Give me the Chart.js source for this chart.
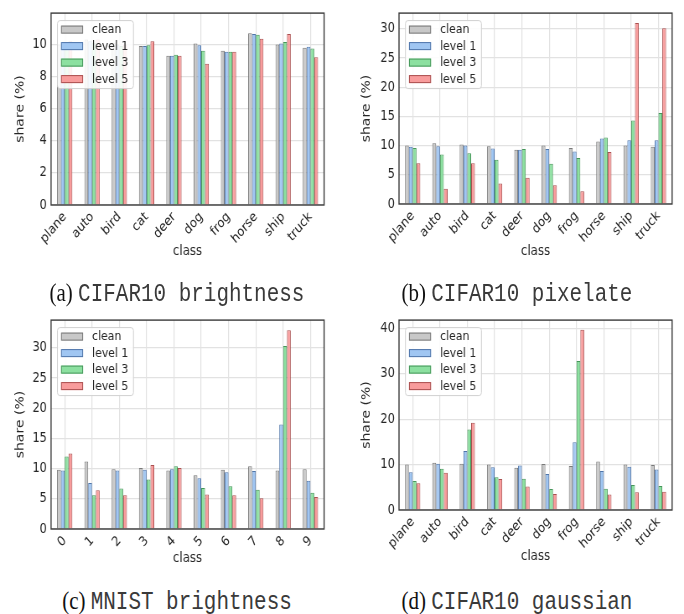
<!DOCTYPE html>
<html>
<head>
<meta charset="utf-8">
<script src="https://cdn.jsdelivr.net/npm/chart.js@4.4.0/dist/chart.umd.min.js"></script>
<style>
  html, body { margin: 0; padding: 0; background: #fff; }
  #page { position: relative; width: 684px; height: 614px; overflow: hidden; }
  canvas { position: absolute; }
  .cap { position: absolute; width: 342px; text-align: center; font-size: 25px; line-height: 29px; color: #111;
         white-space: nowrap; transform: scaleX(0.838); transform-origin: 50% 50%; }
  .cap .lbl { font-family: "Liberation Serif", serif; }
  .cap .nm { font-family: "Liberation Mono", monospace; color: #3a3a3a; }
</style>
</head>
<body>
<div id="page">
  <!-- the reference figure is squeezed horizontally, so each canvas is drawn wider and shown at 342px -->
  <canvas id="chartA" width="408" height="270" style="left:0;top:0;width:342px;height:270px"></canvas>
  <canvas id="chartB" width="408" height="270" style="left:342px;top:0;width:342px;height:270px"></canvas>
  <canvas id="chartC" width="408" height="270" style="left:0;top:307px;width:342px;height:270px"></canvas>
  <canvas id="chartD" width="408" height="270" style="left:342px;top:307px;width:342px;height:270px"></canvas>
  <div class="cap" style="left:6px;top:278px"><span class="lbl">(a)</span> <span class="nm">CIFAR10 brightness</span></div>
  <div class="cap" style="left:346px;top:278px"><span class="lbl">(b)</span> <span class="nm">CIFAR10 pixelate</span></div>
  <div class="cap" style="left:6px;top:586px"><span class="lbl">(c)</span> <span class="nm">MNIST brightness</span></div>
  <div class="cap" style="left:346px;top:586px"><span class="lbl">(d)</span> <span class="nm">CIFAR10 gaussian</span></div>
</div>
<script>
const cifarClasses = ['plane', 'auto', 'bird', 'cat', 'deer', 'dog', 'frog', 'horse', 'ship', 'truck'];
const mnistClasses = ['0', '1', '2', '3', '4', '5', '6', '7', '8', '9'];
const seriesNames = ['clean', 'level 1', 'level 3', 'level 5'];

// (a) CIFAR10 brightness
const brightClean = [10.0, 10.3, 10.1, 9.9, 9.3, 10.05, 9.6, 10.7, 10.0, 9.8];
const brightL1 = [10.0, 10.2, 10.0, 9.9, 9.3, 9.95, 9.55, 10.65, 10.05, 9.85];
const brightL3 = [10.0, 10.1, 9.9, 9.95, 9.35, 9.6, 9.55, 10.6, 10.15, 9.75];
const brightL5 = [10.2, 10.3, 10.0, 10.2, 9.3, 8.8, 9.55, 10.35, 10.65, 9.2];

// (b) CIFAR10 pixelate
const pixClean = [10.0, 10.4, 10.2, 9.9, 9.3, 10.0, 9.6, 10.7, 10.0, 9.8];
const pixL1 = [9.8, 9.9, 10.0, 9.5, 9.3, 9.4, 9.0, 11.2, 10.9, 10.9];
const pixL3 = [9.6, 8.5, 8.7, 7.6, 9.4, 6.9, 7.9, 11.4, 14.3, 15.6];
const pixL5 = [7.0, 2.6, 7.0, 3.5, 4.5, 3.2, 2.2, 8.9, 31.0, 30.1];

// (c) MNIST brightness
const mnistClean = [9.8, 11.2, 9.9, 10.1, 9.7, 8.9, 9.8, 10.4, 9.7, 9.9];
const mnistL1 = [9.7, 7.6, 9.7, 9.8, 9.9, 8.4, 9.4, 9.6, 17.3, 8.0];
const mnistL3 = [12.0, 5.6, 6.7, 8.2, 10.4, 6.8, 7.1, 6.5, 30.3, 6.0];
const mnistL5 = [12.5, 6.4, 5.6, 10.6, 10.1, 5.7, 5.6, 5.1, 32.9, 5.3];

// (d) CIFAR10 gaussian
const gaussClean = [10.0, 10.4, 10.2, 10.0, 9.3, 10.1, 9.7, 10.7, 10.0, 9.9];
const gaussL1 = [8.3, 10.2, 13.0, 9.4, 9.8, 7.9, 14.9, 8.6, 9.5, 8.9];
const gaussL3 = [6.4, 9.1, 17.7, 7.2, 6.9, 4.6, 32.8, 4.7, 5.5, 5.3];
const gaussL5 = [5.9, 8.2, 19.2, 6.8, 5.2, 3.5, 39.7, 3.4, 3.9, 4.0];

const fills = ['rgba(200,200,200,1)', 'rgba(160,198,242,1)', 'rgba(140,224,160,1)', 'rgba(248,156,156,1)'];
const edges = ['rgba(120,120,120,1)', 'rgba(80,118,170,1)', 'rgba(70,150,90,1)', 'rgba(170,80,80,1)'];
const FONT = 'DejaVu Sans';
const TXT = '#262626';
const SX = 342 / 408; // horizontal squeeze of the reference

const framePlugin = {
  id: 'frame',
  afterDatasetsDraw (chart) {
    const { ctx, chartArea: a } = chart;
    // legend box inside the plot, upper left
    const x0 = a.left + 6 / SX, y0 = a.top + 7, w = 76 / SX, h = 68;
    ctx.save();
    ctx.fillStyle = 'rgba(255,255,255,0.88)';
    ctx.strokeStyle = '#d0d0d0';
    ctx.lineWidth = 1;
    ctx.beginPath();
    ctx.roundRect(x0 + 0.5, y0 + 0.5, w, h, 3);
    ctx.fill();
    ctx.stroke();
    ctx.font = '13px ' + FONT;
    ctx.textBaseline = 'middle';
    chart.data.datasets.forEach((ds, i) => {
      const cy = y0 + 9.5 + i * 16.5;
      ctx.fillStyle = ds.backgroundColor;
      ctx.strokeStyle = ds.borderColor;
      ctx.fillRect(x0 + 4 / SX, cy - 4, 22 / SX, 8);
      ctx.strokeRect(x0 + 4 / SX + 0.5, cy - 3.5, 22 / SX - 1, 7);
      ctx.fillStyle = TXT;
      ctx.fillText(ds.label, x0 + 35 / SX, cy + 0.5);
    });
    ctx.restore();
  },
  afterDraw (chart) {
    const { ctx, chartArea: a } = chart;
    ctx.save();
    ctx.strokeStyle = '#3a3a3a';
    ctx.lineWidth = 1.4;
    ctx.strokeRect(a.left, a.top, a.right - a.left, a.bottom - a.top);
    ctx.restore();
  }
};

function makeChart (id, labels, values, yMax, yStep, pad, yWidth, xHeight) {
  new Chart(document.getElementById(id), {
    type: 'bar',
    data: {
      labels: labels,
      datasets: values.map((v, i) => ({
        label: seriesNames[i],
        data: v,
        backgroundColor: fills[i],
        borderColor: edges[i],
        borderWidth: 1,
        categoryPercentage: 0.56,
        barPercentage: 1.0
      }))
    },
    options: {
      responsive: false,
      animation: false,
      devicePixelRatio: 1,
      layout: { padding: pad },
      plugins: { legend: { display: false }, tooltip: { enabled: false } },
      scales: {
        x: {
          grid: { offset: false, color: '#e2e2e2', lineWidth: 1.2, drawTicks: false },
          border: { display: false },
          ticks: { minRotation: 45, maxRotation: 45, padding: 4, color: TXT, font: { family: FONT, size: 13.5 } },
          title: { display: true, text: 'class', color: TXT, font: { family: FONT, size: 14 } },
          afterFit (s) { s.height = xHeight; }
        },
        y: {
          min: 0,
          max: yMax,
          grid: { color: '#e2e2e2', lineWidth: 1.2, drawTicks: false },
          border: { display: false },
          ticks: { stepSize: yStep, includeBounds: false, padding: 5, color: TXT, font: { family: FONT, size: 13.5 } },
          title: { display: true, text: 'share (%)', color: TXT, font: { family: FONT, size: 14 } },
          afterFit (s) { s.width = yWidth; }
        }
      }
    },
    plugins: [framePlugin]
  });
}

makeChart('chartA', cifarClasses, [brightClean, brightL1, brightL3, brightL5], 11.95, 2,
  { left: 11.5, top: 5, right: 21.4, bottom: 6 }, 49.4, 59);
makeChart('chartB', cifarClasses, [pixClean, pixL1, pixL3, pixL5], 32.7, 5,
  { left: 17.4, top: 5, right: 14.2, bottom: 6 }, 50.6, 60);
makeChart('chartC', mnistClasses, [mnistClean, mnistL1, mnistL3, mnistL5], 34.6, 5,
  { left: 11.5, top: 5, right: 21.4, bottom: 6 }, 49.4, 42);
makeChart('chartD', cifarClasses, [gaussClean, gaussL1, gaussL3, gaussL5], 41.8, 10,
  { left: 17.4, top: 5, right: 14.2, bottom: 8 }, 50.6, 59);
</script>
</body>
</html>
